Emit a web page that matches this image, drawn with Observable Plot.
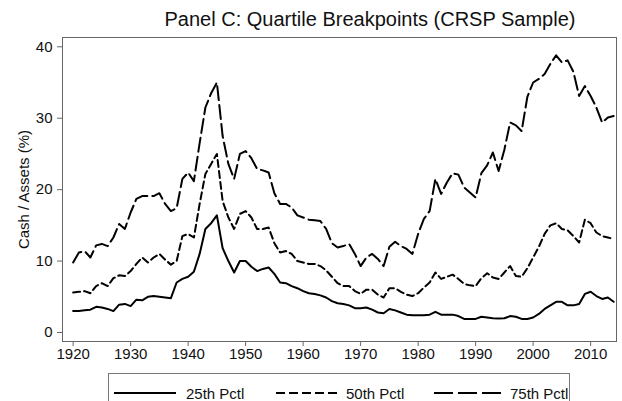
<!DOCTYPE html>
<html>
<head>
<meta charset="utf-8">
<script src="https://cdn.jsdelivr.net/npm/d3@7"></script>
<script src="https://cdn.jsdelivr.net/npm/@observablehq/plot@0.6"></script>
<style>
  html, body { margin: 0; padding: 0; background: #fff; }
  body { width: 622px; height: 401px; overflow: hidden; font-family: Arial, "Liberation Sans", sans-serif; color: #111; position: relative; }
  #title { position: absolute; left: 0; top: 9px; width: 622px; line-height: 20px; font-size: 20px; text-align: center; padding-left: 118px; white-space: nowrap; box-sizing: border-box; }
  #chart { position: absolute; left: 0; top: 30px; height: 336px; }
  #legend { position: absolute; left: 108px; top: 373px; width: 462px; height: 30px; box-sizing: border-box; border: 1px solid #777; }
  #legend svg { display: block; }
</style>
</head>
<body>
<div id="title">Panel C: Quartile Breakpoints (CRSP Sample)</div>
<div id="chart"></div>
<div id="legend"></div>
<script>
const years = d3.range(1920, 2015);
const p25 = [3.0,3.0,3.1,3.2,3.6,3.5,3.3,3.0,3.9,4.0,
  3.7,4.6,4.5,5.0,5.1,5.0,4.9,4.8,7.0,7.5,
  7.8,8.5,11.0,14.5,15.3,16.4,11.8,10.0,8.4,10.0,
  10.0,9.2,8.6,8.9,9.1,8.2,7.0,6.9,6.5,6.2,
  5.8,5.5,5.4,5.2,4.9,4.4,4.1,4.0,3.8,3.4,
  3.4,3.5,3.2,2.8,2.7,3.3,3.1,2.8,2.5,2.4,
  2.4,2.4,2.5,2.9,2.5,2.5,2.5,2.3,1.9,1.9,
  1.9,2.2,2.1,2.0,1.95,2.0,2.3,2.2,1.9,1.9,
  2.1,2.6,3.3,3.8,4.3,4.3,3.8,3.8,4.0,5.4,
  5.7,5.1,4.7,4.9,4.3];
const p50 = [5.6,5.7,5.8,5.5,6.5,6.9,6.5,7.6,8.0,7.9,
  8.6,9.6,10.5,9.8,10.5,11.0,10.2,9.5,10.0,13.5,
  13.8,13.3,18.0,22.2,23.6,25.0,18.4,16.1,14.5,16.6,
  17.0,16.1,14.5,14.5,14.7,12.5,11.2,11.4,11.0,10.0,
  9.8,9.6,9.6,9.3,8.7,7.8,6.9,6.5,6.5,5.8,
  5.4,6.0,6.0,5.3,4.9,6.2,6.2,5.7,5.3,5.1,
  5.5,6.3,7.0,8.4,7.5,7.8,8.1,7.5,6.8,6.6,
  6.5,7.6,8.3,7.7,7.5,8.4,9.3,7.9,7.8,9.0,
  10.5,12.0,13.8,15.0,15.3,14.5,14.3,13.5,12.6,15.8,
  15.3,14.0,13.5,13.3,13.1];
const p75 = [9.8,11.2,11.4,10.5,12.2,12.4,12.1,13.3,15.2,14.5,
  16.8,18.7,19.1,19.1,19.1,19.5,18.0,17.0,17.4,21.5,
  22.4,21.2,26.5,31.5,33.5,35.0,27.5,23.6,21.5,25.0,
  25.4,24.4,22.9,22.7,22.4,19.5,18.0,18.0,17.5,16.4,
  16.1,15.8,15.7,15.6,14.5,12.5,11.9,12.1,12.4,11.0,
  9.3,10.5,11.0,10.3,9.3,12.0,12.7,12.1,11.7,11.0,
  13.8,15.9,17.0,21.5,19.4,21.0,22.3,22.1,20.3,19.6,
  18.9,22.3,23.4,25.2,22.6,25.6,29.4,29.0,28.2,33.0,
  35.0,35.5,36.2,37.6,38.8,37.8,38.1,36.5,33.1,34.5,
  33.1,31.5,29.4,30.1,30.3];
const xTicks = [1920,1930,1940,1950,1960,1970,1980,1990,2000,2010];
const yTicks = [0,10,20,30,40];
const seriesNames = ["25th Pctl", "50th Pctl", "75th Pctl"];
const dashes = [null, "7,4", "14,5"];
const legendDashes = [null, "9,4", "19,5"];

const seriesVals = [p25, p50, p75];
const FONT = 'Arial, "Liberation Sans", sans-serif';

const chart = Plot.plot({
  width: 622,
  height: 336,
  marginLeft: 62,
  marginRight: 6,
  marginTop: 7,
  marginBottom: 25,
  style: { fontFamily: FONT, fontSize: "15px", color: "#111", background: "#fff" },
  x: { domain: [1918.15, 2014.5] },
  y: { domain: [-1.26, 41.3] },
  marks: [
    Plot.frame({ stroke: "#666", strokeWidth: 1 }),
    Plot.axisX({ ticks: xTicks, tickSize: 5, tickPadding: 2, tickFormat: d => String(d), label: null, stroke: "#666", fontSize: 15 }),
    Plot.axisY({ ticks: yTicks, tickSize: 5, tickPadding: 5, label: "Cash / Assets (%)", labelAnchor: "center", labelArrow: "none", labelOffset: 44, stroke: "#666", fontSize: 15 }),
    ...seriesVals.map((vals, k) => Plot.line(vals, {
      x: (d, i) => years[i],
      y: d => d,
      stroke: "#000",
      strokeWidth: 2,
      strokeDasharray: dashes[k],
      strokeLinejoin: "round"
    }))
  ]
});
document.getElementById("chart").appendChild(chart);

// legend
const leg = d3.select("#legend").append("svg").attr("width", 460).attr("height", 28);
const items = [{x0: 5, x1: 67, tx: 77}, {x0: 167, x1: 231, tx: 237}, {x0: 325, x1: 392, tx: 401}];
items.forEach((it, k) => {
  leg.append("line").attr("x1", it.x0).attr("x2", it.x1).attr("y1", 19).attr("y2", 19)
    .attr("stroke", "#000").attr("stroke-width", 2).attr("stroke-dasharray", legendDashes[k]);
  leg.append("text").attr("x", it.tx).attr("y", 24.5).attr("font-size", 15)
    .attr("font-family", FONT).attr("fill", "#111").text(seriesNames[k]);
});
</script>
</body>
</html>
